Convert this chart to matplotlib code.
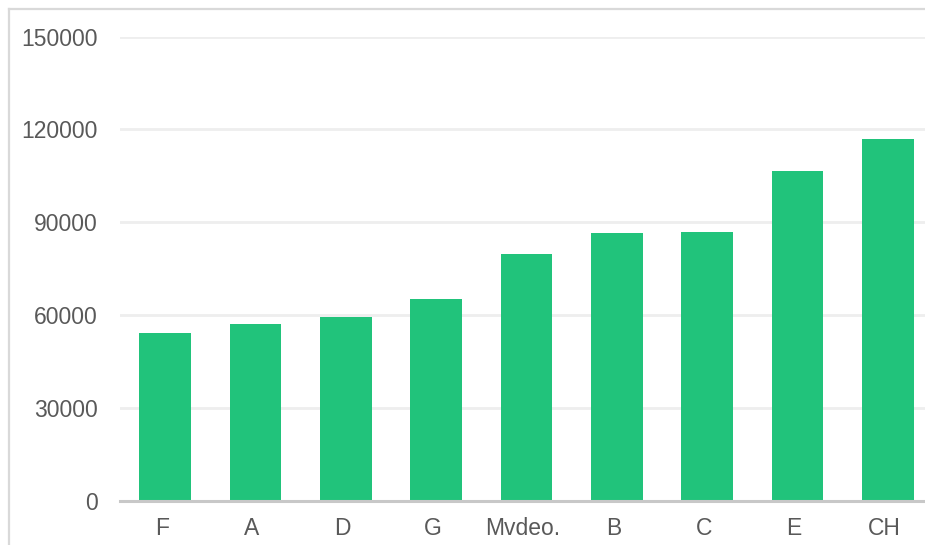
import matplotlib
matplotlib.use("Agg")
import matplotlib.pyplot as plt
from matplotlib.lines import Line2D
from matplotlib.transforms import ScaledTranslation

categories = ["F", "A", "D", "G", "Mvdeo.", "B", "C", "E", "CH"]
values = [54200, 57000, 59300, 65100, 79800, 86500, 86900, 106600, 116900]
y_ticks = [0, 30000, 60000, 90000, 120000, 150000]

plt.rcParams["font.family"] = ["Liberation Sans", "DejaVu Sans"]

fig = plt.figure(figsize=(9.25, 5.45), dpi=100)

# card frame (left and top edges visible)
fig.add_artist(Line2D([9 / 925, 9 / 925], [0, 1 - 9 / 545], color="#d9d9d9", lw=1.6,
                      transform=fig.transFigure))
fig.add_artist(Line2D([9 / 925, 1], [1 - 9 / 545, 1 - 9 / 545], color="#d9d9d9", lw=1.6,
                      transform=fig.transFigure))

ax = fig.add_axes([120 / 925, 44.5 / 545, 813 / 925, 463.8 / 545])
x = range(len(categories))
ax.bar(x, values, width=0.575, color="#21c37b", zorder=3)

ax.set_xlim(-0.5, len(categories) - 0.5)
ax.set_ylim(0, 150000)
ax.set_yticks(y_ticks)
ax.set_yticklabels([str(v) for v in y_ticks])
ax.set_xticks(list(x))
ax.set_xticklabels(categories)

ax.grid(axis="y", color="#eeeeee", lw=2, zorder=0)
for s in ["top", "right", "left"]:
    ax.spines[s].set_visible(False)
ax.spines["bottom"].set_color("#c8c8c8")
ax.spines["bottom"].set_linewidth(2.2)
ax.spines["bottom"].set_zorder(4)

ax.tick_params(axis="y", length=0, pad=16, labelsize=16.5, labelcolor="#595959")
ax.tick_params(axis="x", length=0, pad=12, labelsize=16.5, labelcolor="#595959")

# category labels sit slightly left of the bar centres
shift = ScaledTranslation(-3.5 / 100, 0, fig.dpi_scale_trans)
for lbl in ax.get_xticklabels():
    lbl.set_transform(lbl.get_transform() + shift)

fig.savefig("out.png", dpi=100)
